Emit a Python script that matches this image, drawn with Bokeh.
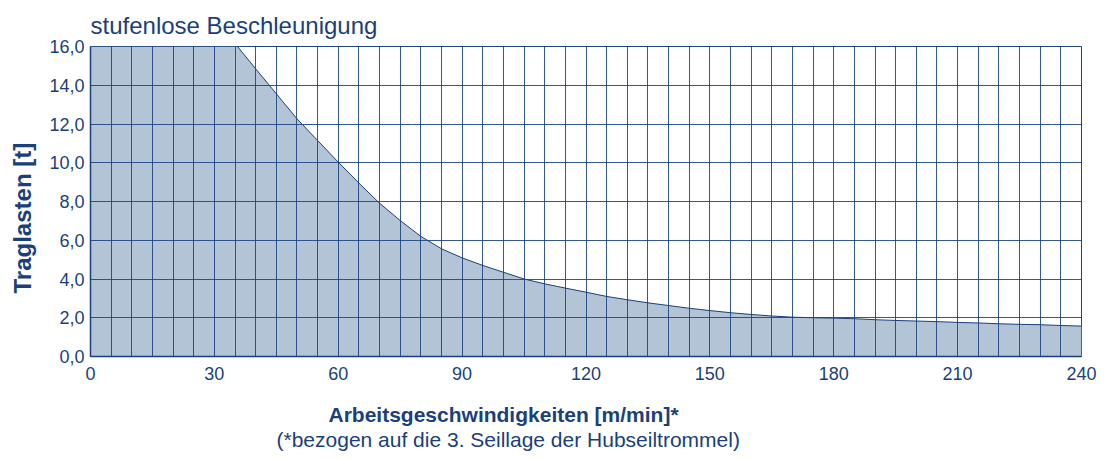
from bokeh.plotting import figure
from bokeh.models import Range1d, FixedTicker, Title
from bokeh.embed import file_html
from bokeh.resources import INLINE

# ---- data ----
speeds = [0, 35.6, 40, 45, 50, 55, 60, 65, 70, 75, 80, 85, 90, 95, 100, 105, 110,
          115, 120, 125, 130, 135, 140, 145, 150, 155, 160, 165, 170, 175, 180,
          185, 190, 195, 200, 205, 210, 215, 220, 225, 230, 235, 240]
loads = [16.0, 16.0, 14.85, 13.56, 12.27, 11.15, 10.03, 8.95, 7.91, 7.02, 6.2,
         5.56, 5.09, 4.70, 4.35, 4.0, 3.75, 3.53, 3.32, 3.10, 2.93, 2.77, 2.63,
         2.49, 2.37, 2.26, 2.17, 2.09, 2.03, 2.0, 1.98, 1.95, 1.9, 1.86, 1.83,
         1.8, 1.76, 1.73, 1.69, 1.66, 1.64, 1.6, 1.57]
x_ticks = [0, 30, 60, 90, 120, 150, 180, 210, 240]
x_tick_labels = ["0", "30", "60", "90", "120", "150", "180", "210", "240"]
x_grid = list(range(0, 241, 5))
y_ticks = [0, 2, 4, 6, 8, 10, 12, 14, 16]
y_tick_labels = ["0,0", "2,0", "4,0", "6,0", "8,0", "10,0", "12,0", "14,0", "16,0"]

title_text = "stufenlose Beschleunigung"
x_label = "Arbeitsgeschwindigkeiten [m/min]*"
x_note = "(*bezogen auf die 3. Seillage der Hubseiltrommel)"
y_label = "Traglasten [t]"

NAVY = "#1b3f7b"
GRID = "#1d4583"
FILL = "#b3c4d7"
FONT = "Liberation Sans"

p = figure(frame_width=991, frame_height=310,
           min_border_left=88, min_border_right=23,
           min_border_top=46, min_border_bottom=100,
           x_range=Range1d(0, 240), y_range=Range1d(0, 16),
           output_backend="svg", toolbar_location=None)

p.title.text = title_text
p.title.align = "left"
p.title.text_font = FONT
p.title.text_font_size = "24px"
p.title.text_font_style = "normal"
p.title.text_color = NAVY
p.title.standoff = 15

p.varea(x=speeds, y1=0, y2=loads, fill_color=FILL)
p.line(x=speeds, y=loads, line_color=NAVY, line_width=1)

p.xaxis.ticker = FixedTicker(ticks=x_ticks)
p.xaxis.major_label_overrides = dict(zip(x_ticks, x_tick_labels))
p.yaxis.ticker = FixedTicker(ticks=y_ticks)
p.yaxis.major_label_overrides = dict(zip(y_ticks, y_tick_labels))

for ax in (p.xaxis[0], p.yaxis[0]):
    ax.axis_line_color = NAVY
    ax.axis_line_width = 1.5
    ax.major_tick_line_color = None
    ax.minor_tick_line_color = None
    ax.major_tick_out = 0
    ax.major_tick_in = 0
    ax.major_label_text_font = FONT
    ax.major_label_text_font_size = "18px"
    ax.major_label_text_color = NAVY
p.xaxis.major_label_standoff = 10
p.yaxis.major_label_standoff = 6
# blank axis label used only as spacer below the tick labels
p.xaxis.axis_label = " "
p.xaxis.axis_label_text_font_size = "10px"
p.xaxis.axis_label_standoff = 4

p.xgrid.ticker = FixedTicker(ticks=x_grid)
p.ygrid.ticker = FixedTicker(ticks=y_ticks)
for g in (p.xgrid[0], p.ygrid[0]):
    g.grid_line_color = GRID
    g.grid_line_width = 1
    g.grid_line_alpha = 0.9
    g.level = "annotation"

p.outline_line_color = GRID
p.outline_line_width = 1
p.background_fill_color = "white"
p.border_fill_color = "white"

# axis caption and footnote, set a little left of the frame centre
p.add_layout(Title(text=x_label, align="left", offset=238, text_font=FONT,
                   text_font_size="21px", text_font_style="bold",
                   text_color=NAVY, standoff=0), "below")
p.add_layout(Title(text=x_note, align="left", offset=186, text_font=FONT,
                   text_font_size="21px", text_font_style="normal",
                   text_color=NAVY, standoff=0), "below")
p.add_layout(Title(text=y_label, align="left", offset=63, text_font=FONT,
                   text_font_size="24px", text_font_style="bold",
                   vertical_align="top",
                   text_color=NAVY, standoff=17), "left")

open("out.html", "w").write(file_html(p, INLINE))
